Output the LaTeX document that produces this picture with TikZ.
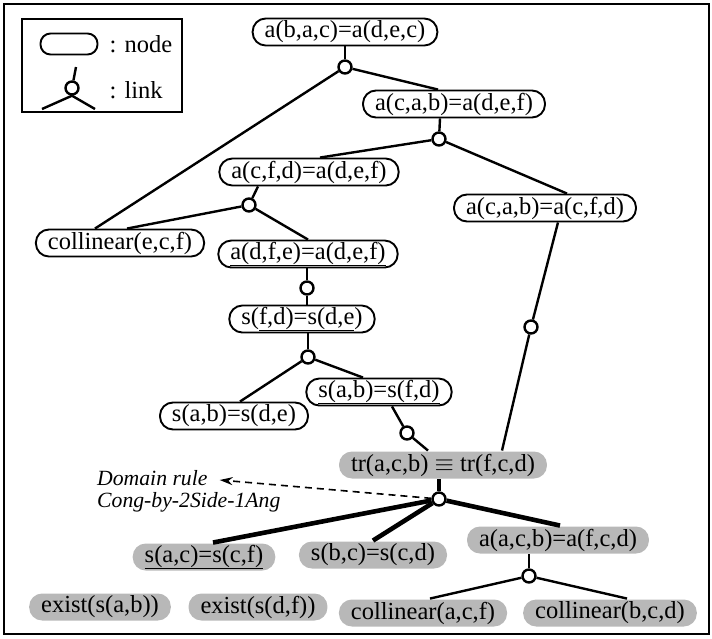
\documentclass[tikz,border=0pt]{standalone}
\usepackage{fontspec}
\setmainfont{Liberation Serif}
\usepackage{tikz}
\usetikzlibrary{calc,shapes,arrows.meta}
\tikzstyle{goal}=[draw,line width=1.9pt,rounded corners=13pt,minimum height=27pt,inner xsep=12pt,inner ysep=1pt,font=\fontsize{24.5}{28}\selectfont]
\tikzstyle{known}=[goal,draw=none,fill=black!28]
\tikzstyle{link}=[circle,draw,fill=white,line width=2.4pt,inner sep=0pt,minimum size=13pt]
\tikzstyle{edge}=[line width=2.4pt]
\tikzstyle{bold edge}=[line width=4.6pt]
\tikzstyle{rule}=[anchor=west,inner sep=0pt,font=\fontsize{21.7}{24}\selectfont\itshape]

\begin{document}
\begin{tikzpicture}[x=1pt,y=-1pt]
    \useasboundingbox (0,0) rectangle (712,638);
    \draw[line width=2.2pt] (4,4) rectangle (709,634);

    % Legend
    \draw[line width=1.9pt] (22,19) rectangle (182,112);
    \node[goal,minimum width=57pt,minimum height=21pt,rounded corners=10pt] (keynode) at (69,44) {};
    \node[anchor=west,font=\fontsize{24.5}{28}\selectfont] (keynodetext) at (106,44) {: node};
    \node[link] (keylink) at (72,88) {};
    \coordinate (keytop) at (76,67);
    \coordinate (keyl) at (42,109);
    \coordinate (keyr) at (95,109);
    \draw[edge] (keytop) -- (keylink);
    \draw[edge] (keylink.south) -- (keyl);
    \draw[edge] (keylink.south) -- (keyr);
    \node[anchor=west,font=\fontsize{24.5}{28}\selectfont] (keylinktext) at (106,90) {: link};

    % Goals
    \node[goal] (n1) at (345,32) {a(b,a,c)=a(d,e,c)};
    \node[goal] (n2) at (454,104) {a(c,a,b)=a(d,e,f)};
    \node[goal] (n3) at (309,172) {a(c,f,d)=a(d,e,f)};
    \node[goal] (n4) at (545,208) {a(c,a,b)=a(c,f,d)};
    \node[goal] (cef) at (120,243) {collinear(e,c,f)};
    \node[goal] (n5) at (308,254) {\underline{a(d,f,e)=a(d,e,f)}};
    \node[goal] (n6) at (302,319) {s(\underline{f,d)=s(d,e})};
    \node[goal] (n7) at (234,416) {s(a,b)=s(d,e)};
    \node[goal] (n8) at (379,392) {\underline{s(a,b)=s(f,d)}};

    % Known facts
    \node[known] (tr) at (443,465) {tr(a,c,b) $\equiv$ tr(f,c,d)};
    \node[known] (sac) at (204,557) {\underline{s(a,c)=s(c,f)}};
    \node[known] (sbc) at (373,555) {s(b,c)=s(c,d)};
    \node[known] (aacb) at (558,540) {a(a,c,b)=a(f,c,d)};
    \node[known] (exab) at (100,607) {exist(s(a,b))};
    \node[known] (exdf) at (258,607) {exist(s(d,f))};
    \node[known] (caf) at (423,613) {collinear(a,c,f)};
    \node[known] (cbcd) at (610,613) {collinear(b,c,d)};

    % Links
    \node[link] (l1) at (345,67) {};
    \node[link] (l2) at (439,139) {};
    \node[link] (l3) at (249,205) {};
    \node[link] (l5) at (307,288) {};
    \node[link] (l6) at (308,357) {};
    \node[link] (l8) at (407,433) {};
    \node[link] (l4) at (531,327) {};
    \node[link] (l9) at (439,499) {};
    \node[link] (l10) at (529,576) {};

    \draw[edge] (n1.south) -- (l1);
    \draw[edge] (l1) -- ([xshift=-16pt]n2.north);
    \draw[edge] (l1) -- ([xshift=-25pt]cef.north);

    \draw[edge] ([xshift=-14pt]n2.south) -- (l2);
    \draw[edge] (l2) -- ([xshift=11pt]n3.north);
    \draw[edge] (l2) -- ([xshift=22pt]n4.north);

    \draw[edge] ([xshift=-51pt]n3.south) -- (l3);
    \draw[edge] (l3) -- ([xshift=7pt]cef.north);
    \draw[edge] (l3) -- (n5.north);

    \draw[edge] ([xshift=-1pt]n5.south) -- (l5);
    \draw[edge] (l5) -- ([xshift=5pt]n6.north);

    \draw[edge] ([xshift=6pt]n6.south) -- (l6);
    \draw[edge] (l6) -- ([xshift=6pt]n7.north);
    \draw[edge] (l6) -- ([xshift=-16pt]n8.north);

    \draw[edge] ([xshift=13pt]n8.south) -- (l8);
    \draw[edge] (l8) -- ([xshift=-15pt]tr.north);

    \draw[edge] ([xshift=13pt]n4.south) -- (l4);
    \draw[edge] (l4) -- ([xshift=59pt]tr.north);

    % Congruence step
    \draw[bold edge] ([xshift=-4pt]tr.south) -- (l9);
    \draw[bold edge] (l9) -- ([xshift=9pt]sac.north);
    \draw[bold edge] (l9) -- (sbc.north);
    \draw[bold edge] (l9) -- ([xshift=2pt]aacb.north);

    \draw[edge] ([xshift=-29pt]aacb.south) -- (l10);
    \draw[edge] (l10) -- ([xshift=7pt]caf.north);
    \draw[edge] (l10) -- ([xshift=17pt]cbcd.north);

    % Domain rule
    \node[rule] (rule1) at (97,478) {Domain rule};
    \node[rule] (rule2) at (97,502) {Cong-by-2Side-1Ang};
    \draw[-{Stealth[length=13pt,width=8pt]},line width=1.6pt,dash pattern=on 7pt off 5pt] (l9) -- ([xshift=12pt,yshift=-2pt]rule1.east);
\end{tikzpicture}
\end{document}
